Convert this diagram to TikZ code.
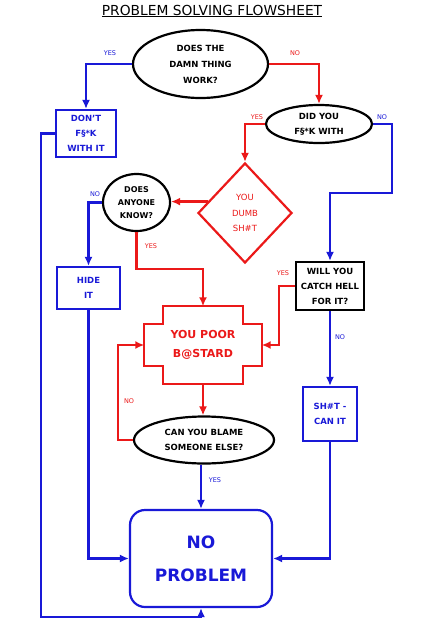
\documentclass[tikz,border=0pt]{standalone}
\usepackage{fontspec}
\setmainfont{DejaVu Sans}
\usetikzlibrary{shapes.geometric,calc,arrows.meta}
\definecolor{fsblue}{RGB}{25,25,215}
\definecolor{fsred}{RGB}{235,25,25}
\begin{document}
\begin{tikzpicture}[x=1pt,y=-1pt]
      \tikzstyle{every node}+=[inner sep=0pt,align=center,font=\fontsize{8.5}{15}\selectfont\bfseries]
      \tikzstyle{question}=[draw=black,ellipse,line width=2.2pt]
      \tikzstyle{bluebox}=[draw=fsblue,text=fsblue,rectangle,line width=2.2pt]
      \tikzstyle{blueline}=[fsblue,line width=2.2pt,-{Latex[length=9pt,width=8pt]}]
      \tikzstyle{redline}=[fsred,line width=2.2pt,-{Latex[length=9pt,width=8pt]}]
      \tikzstyle{tag}=[font=\fontsize{6.5}{7}\selectfont]
      \useasboundingbox (0,0) rectangle (424,640);
      \node [font=\fontsize{13.8}{15}\selectfont] (title) at (212,11) {\underline{PROBLEM SOLVING FLOWSHEET}};
      \node [question,minimum width=135pt,minimum height=68pt,font=\fontsize{8.5}{16}\selectfont\bfseries] (work) at (200.5,64) {DOES THE\\DAMN THING\\WORK?};
      \node [bluebox,minimum width=60pt,minimum height=47pt] (dont) at (86,133.5) {DON'T\\F§*K\\WITH IT};
      \node [question,minimum width=106pt,minimum height=38pt] (didyou) at (319,124) {DID YOU\\F§*K WITH};
      \node [diamond,draw=fsred,text=fsred,line width=2.2pt,minimum width=94pt,minimum height=100pt,font=\fontsize{8.5}{15.5}\selectfont] (dumb) at (245,213) {YOU\\DUMB\\SH\#T};
      \node [question,minimum width=67pt,minimum height=57pt,font=\fontsize{8}{13}\selectfont\bfseries] (anyone) at (136.5,202.5) {DOES\\ANYONE\\KNOW?};
      \node [bluebox,minimum width=63pt,minimum height=42pt] (hide) at (88.5,288) {HIDE\\IT};
      \node [draw=black,line width=2.2pt,minimum width=68pt,minimum height=48pt] (catch) at (330,286) {WILL YOU\\CATCH HELL\\FOR IT?};
      \node [minimum width=117pt,minimum height=77pt,text=fsred,font=\fontsize{11}{19}\selectfont\bfseries] (poor) at (203,345) {YOU POOR\\B@STARD};
      \node [question,minimum width=140pt,minimum height=47pt] (blame) at (204,440) {CAN YOU BLAME\\SOMEONE ELSE?};
      \node [bluebox,minimum width=54pt,minimum height=54pt] (canit) at (330,414) {SH\#T -\\CAN IT};
      \node [bluebox,rounded corners=15pt,minimum width=142pt,minimum height=97pt,font=\fontsize{17}{33}\selectfont\bfseries] (noprob) at (201,558.5) {NO\\PROBLEM};
      \coordinate (botleft) at (41,617);
      \coordinate (nobend) at (392,193);
      \draw [fsred,line width=2.2pt] ($(poor.north west)+(19,0)$) -- ($(poor.north east)+(-19,0)$) -- ($(poor.north east)+(-19,18)$) -- ($(poor.north east)+(0,18)$) -- ($(poor.south east)+(0,-18)$) -- ($(poor.south east)+(-19,-18)$) -- ($(poor.south east)+(-19,0)$) -- ($(poor.south west)+(19,0)$) -- ($(poor.south west)+(19,-18)$) -- ($(poor.south west)+(0,-18)$) -- ($(poor.north west)+(0,18)$) -- ($(poor.north west)+(19,18)$) -- cycle;
      \draw [blueline] (work.west) -| (dont.north);
      \draw [redline] (work.east) -| (didyou.north);
      \draw [blueline] (dont.west) -| (botleft) -| (noprob.south);
      \draw [redline] (didyou.west) -| (dumb.north);
      \draw [blueline] (didyou.east) -| (nobend) -| (catch.north);
      \draw [redline] (dumb.163) -- (dumb.163 -| anyone.east);
      \draw [blueline] (anyone.west) -| (hide.north);
      \draw [redline] (anyone.south) -- ++(0,37) -| (poor.north);
      \draw [blueline] (hide.south) |- (noprob.west);
      \draw [redline] (catch.west) -- ++(-16,0) |- (poor.east);
      \draw [blueline] (catch.south) -- (canit.north);
      \draw [redline] (poor.south) -- (poor.south |- blame.north);
      \draw [redline] (blame.west) -- ++(-15,0) |- (poor.west);
      \draw [blueline] (noprob.north |- blame.south) -- (noprob.north);
      \draw [blueline] (canit.south) |- (noprob.east);
      \node [tag,text=fsblue] (yes1) at (110,53) {YES};
      \node [tag,text=fsred] (no1) at (295,53) {NO};
      \node [tag,text=fsred] (yes2) at (257,117) {YES};
      \node [tag,text=fsblue] (no2) at (382,117) {NO};
      \node [tag,text=fsblue] (no3) at (95,194) {NO};
      \node [tag,text=fsred] (yes3) at (151,246) {YES};
      \node [tag,text=fsred] (yes4) at (283,273) {YES};
      \node [tag,text=fsblue] (no4) at (340,337) {NO};
      \node [tag,text=fsred] (no5) at (129,401) {NO};
      \node [tag,text=fsblue] (yes5) at (215,480) {YES};
\end{tikzpicture}
\end{document}
